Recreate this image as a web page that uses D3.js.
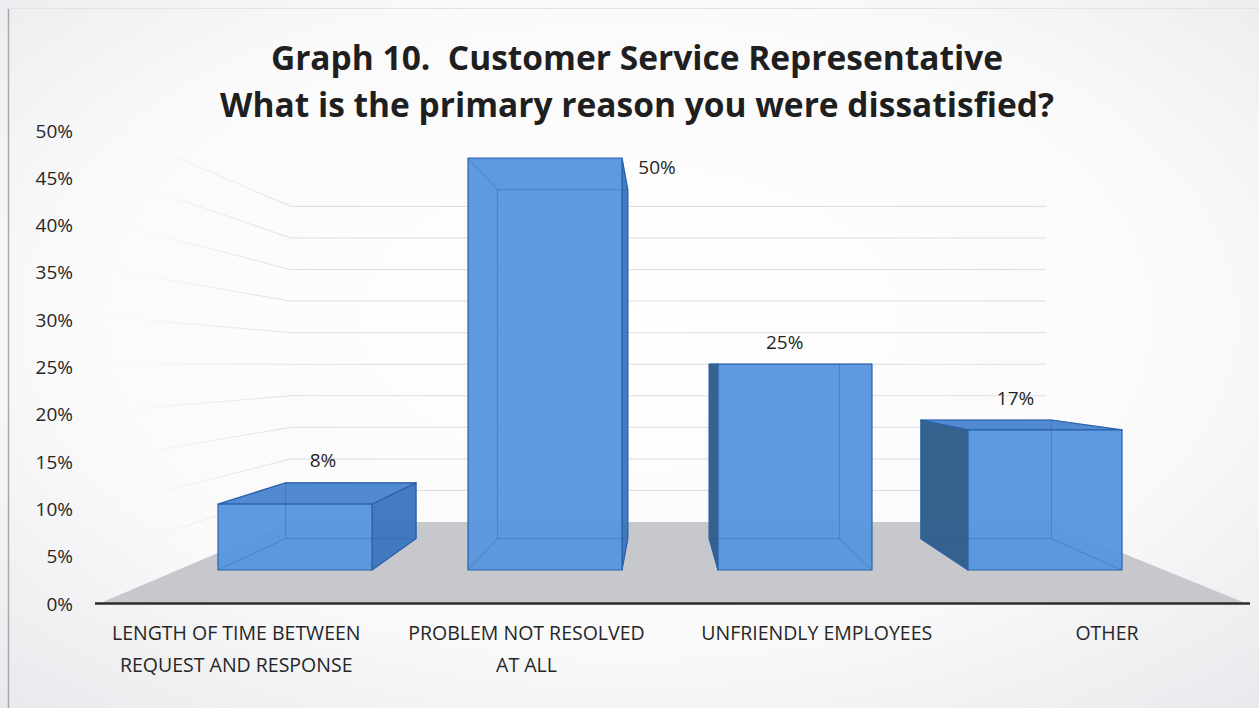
<!DOCTYPE html>
<html>
<head>
<meta charset="utf-8">
<script src="https://cdn.jsdelivr.net/npm/d3@7"></script>
<style>
  html, body { margin: 0; padding: 0; background: #f1f2f4; }
  svg { display: block; }
</style>
</head>
<body>
<svg id="chart" width="1259" height="708"></svg>
<script>
// ---- data ----
const categories = ["LENGTH_OF_TIME", "NOT_RESOLVED", "UNFRIENDLY", "OTHER"];
const categoryLabels = [
  ["LENGTH OF TIME BETWEEN", "REQUEST AND RESPONSE"],
  ["PROBLEM NOT RESOLVED", "AT ALL"],
  ["UNFRIENDLY EMPLOYEES"],
  ["OTHER"]
];
const values = [8, 50, 25, 17];
const valueLabels = ["8%", "50%", "25%", "17%"];
const tickValues = [0, 5, 10, 15, 20, 25, 30, 35, 40, 45, 50];
const titleLines = [
  "Graph 10.  Customer Service Representative",
  "What is the primary reason you were dissatisfied?"
];

// ---- setup ----
const W = 1259, H = 708;
const svg = d3.select("#chart");
const FONT = "'Open Sans', Lato, sans-serif";

// perspective: points are given in the plane of the bar fronts and
// scaled toward a vanishing point by a depth factor
const VP = { x: 660, y: 365 };
const K = { floorFront: 1.161, barFront: 1, barBack: 0.847, wall: 0.766 };
const proj = (xf, yf, k) => [VP.x + k * (xf - VP.x), VP.y + k * (yf - VP.y)];

const x = d3.scaleBand().domain(categories).range([170, 1170])
  .paddingInner(0.384).paddingOuter(0.192);
const y = d3.scaleLinear().domain([0, 50]).range([570, 158]);
const floorX = [178, 1164];
// value axis drawn along the front-left edge
const yAxisScale = d3.scaleLinear().domain([0, 50]).range([604, 131]);

// ---- background ----
const defs = svg.append("defs");
const bg = defs.append("radialGradient").attr("id", "bg")
  .attr("cx", "50%").attr("cy", "45%").attr("r", "75%");
bg.append("stop").attr("offset", "0%").attr("stop-color", "#ffffff");
bg.append("stop").attr("offset", "60%").attr("stop-color", "#fafafb");
bg.append("stop").attr("offset", "100%").attr("stop-color", "#e8e9ec");
svg.append("rect").attr("width", W).attr("height", H).attr("fill", "url(#bg)");
svg.append("line").attr("x1", 8.5).attr("x2", 8.5).attr("y1", 8).attr("y2", H)
  .attr("stroke", "#a8a9ad").attr("stroke-width", 1.5);
svg.append("line").attr("x1", 8).attr("x2", W).attr("y1", 8.5).attr("y2", 8.5)
  .attr("stroke", "#e2e3e6").attr("stroke-width", 1);

// ---- floor ----
const fl = [
  proj(floorX[0], y(0), K.floorFront),
  proj(floorX[1], y(0), K.floorFront),
  proj(floorX[1], y(0), K.wall),
  proj(floorX[0], y(0), K.wall)
];
svg.append("polygon").attr("points", fl.map(p => p.join(",")).join(" "))
  .attr("fill", "#c7c8cc");

// ---- walls: gridlines ----
const sideGrad = defs.append("linearGradient").attr("id", "sideGrad")
  .attr("gradientUnits", "userSpaceOnUse")
  .attr("x1", fl[0][0]).attr("x2", fl[3][0]).attr("y1", 0).attr("y2", 0);
sideGrad.append("stop").attr("offset", "0%").attr("stop-color", "#dddddd").attr("stop-opacity", 0);
sideGrad.append("stop").attr("offset", "35%").attr("stop-color", "#dddddd").attr("stop-opacity", 0.25);
sideGrad.append("stop").attr("offset", "100%").attr("stop-color", "#dadada").attr("stop-opacity", 0.9);

const grid = svg.append("g");
tickValues.filter(t => t > 0).forEach(t => {
  const a = proj(floorX[0], y(t), K.floorFront);
  const b = proj(floorX[0], y(t), K.wall);
  const c = proj(floorX[1], y(t), K.wall);
  grid.append("line").attr("x1", a[0]).attr("y1", a[1]).attr("x2", b[0]).attr("y2", b[1])
    .attr("stroke", "url(#sideGrad)").attr("stroke-width", 1);
  grid.append("line").attr("x1", b[0]).attr("y1", b[1]).attr("x2", c[0]).attr("y2", c[1])
    .attr("stroke", "#dedede").attr("stroke-width", 1);
});

// ---- bars ----
const colors = {
  front: "#5a96de", top: "#4c86cf", right: "#3e76bd", left: "#2f5d8a",
  edge: "#2a63ad", hidden: "#2b5f9f"
};
const barsG = svg.append("g");
categories.forEach((c, i) => {
  const x0 = x(c), x1 = x0 + x.bandwidth();
  const yb = y(0), yt = y(values[i]);
  const F = { tl: proj(x0, yt, K.barFront), tr: proj(x1, yt, K.barFront),
              br: proj(x1, yb, K.barFront), bl: proj(x0, yb, K.barFront) };
  const B = { tl: proj(x0, yt, K.barBack), tr: proj(x1, yt, K.barBack),
              br: proj(x1, yb, K.barBack), bl: proj(x0, yb, K.barBack) };
  const g = barsG.append("g");
  const face = (pts, fill) => g.append("polygon")
    .attr("points", pts.map(p => p.join(",")).join(" "))
    .attr("fill", fill).attr("fill-opacity", 0.97)
    .attr("stroke", colors.edge).attr("stroke-width", 1.2).attr("stroke-linejoin", "round");

  if (x1 < VP.x) face([F.tr, B.tr, B.br, F.br], colors.right);
  if (x0 > VP.x) face([F.tl, B.tl, B.bl, F.bl], colors.left);
  if (yt > VP.y) face([F.tl, F.tr, B.tr, B.tl], colors.top);
  face([F.tl, F.tr, F.br, F.bl], colors.front);

  // back edges showing through the translucent box
  const hidden = [[B.tl, B.tr], [B.tr, B.br], [B.br, B.bl], [B.bl, B.tl],
                  [F.tl, B.tl], [F.tr, B.tr], [F.br, B.br], [F.bl, B.bl]];
  hidden.forEach(([p, q]) => g.append("line")
    .attr("x1", p[0]).attr("y1", p[1]).attr("x2", q[0]).attr("y2", q[1])
    .attr("stroke", colors.hidden).attr("stroke-opacity", 0.4).attr("stroke-width", 1));

  // value label above the bar's top, moved beside the bar when it would
  // fall on the front face
  const topMid = proj((x0 + x1) / 2, yt, (K.barFront + K.barBack) / 2);
  let lx = topMid[0], ly = B.tl[1] - 22;
  if (ly + 10 > F.tl[1]) { lx = F.tr[0] + 35; }
  svg.append("text").attr("x", lx).attr("y", ly).attr("dy", "0.35em")
    .attr("text-anchor", "middle").attr("font-family", FONT).attr("font-size", 19)
    .attr("fill", "#262626").text(valueLabels[i]);
});

// ---- category axis ----
svg.append("line").attr("x1", 95).attr("x2", 1250).attr("y1", 603.5).attr("y2", 603.5)
  .attr("stroke", "#2b2b2b").attr("stroke-width", 2.5);
categories.forEach((c, i) => {
  const cx = proj(x(c) + x.bandwidth() / 2, y(0), K.floorFront)[0];
  const t = svg.append("text").attr("x", cx).attr("y", 640)
    .attr("text-anchor", "middle").attr("font-family", FONT).attr("font-size", 19.5)
    .attr("fill", "#262626");
  categoryLabels[i].forEach((line, j) => {
    t.append("tspan").attr("x", cx).attr("dy", j === 0 ? 0 : 31.5).text(line);
  });
});

// ---- value axis ----
const yAxis = svg.append("g").attr("transform", "translate(73,0)")
  .call(d3.axisLeft(yAxisScale).tickValues(tickValues).tickSize(0).tickPadding(0)
    .tickFormat(d => d + "%"));
yAxis.select(".domain").remove();
yAxis.selectAll("text").attr("font-family", FONT).attr("font-size", 19).attr("fill", "#262626");

// ---- title ----
titleLines.forEach((line, i) => {
  svg.append("text").attr("x", 637).attr("y", 70 + i * 47)
    .attr("text-anchor", "middle").attr("font-family", FONT).attr("font-weight", 700)
    .attr("font-size", 33.5).attr("fill", "#1f1f1f")
    .style("white-space", "pre").text(line);
});
</script>
</body>
</html>
